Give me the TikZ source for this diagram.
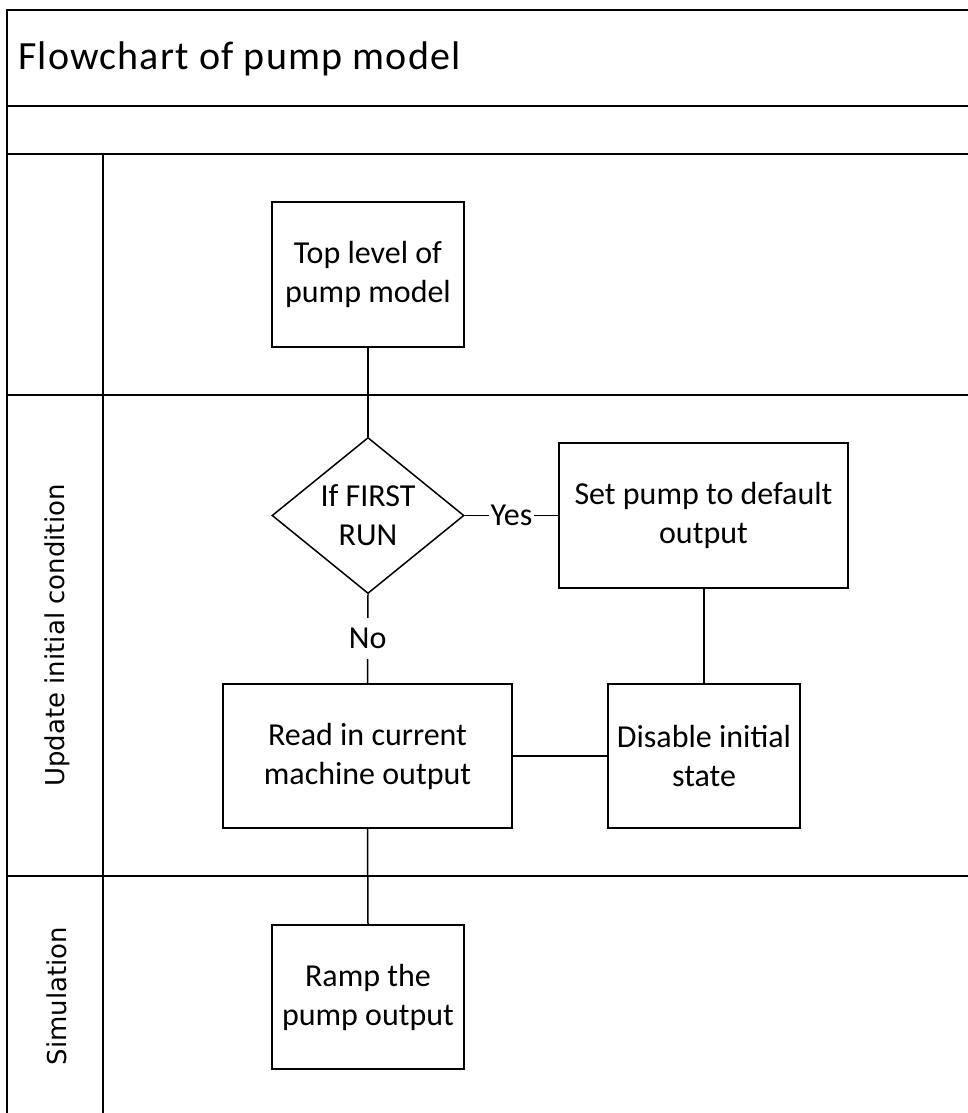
\documentclass[tikz,border=0pt]{standalone}
\usepackage{fontspec}
\setmainfont{Carlito}
\newfontfamily\lanefont{DejaVu Sans}
\newfontfamily\titlefont[LetterSpace=3]{Carlito}
\usetikzlibrary{shapes.geometric}
\tikzset{
  frameline/.style={line width=2pt, black},
  procbox/.style={draw, line width=1.5pt, rectangle, inner sep=0pt, align=center,
    font=\fontsize{32}{39}\selectfont},
  decision/.style={draw, line width=1.5pt, diamond, inner sep=0pt, align=center,
    minimum width=192pt, minimum height=143pt, font=\fontsize{32}{39}\selectfont},
  conn/.style={line width=1.5pt, black},
  edgelabel/.style={fill=white, inner xsep=2pt, inner ysep=10pt, font=\fontsize{32}{39}\selectfont},
  lanelabel/.style={rotate=90, inner sep=0pt, font=\lanefont\fontsize{26}{30}\selectfont},
}
\begin{document}
\begin{tikzpicture}[x=1pt, y=-1pt]
\useasboundingbox (0,0) rectangle (968,1113);
\clip (0,0) rectangle (968,1113);
% frame
\draw[frameline] (980,10) -- (7,10) -- (7,1130);
\draw[frameline] (7,106) -- (980,106);
\draw[frameline] (7,154) -- (980,154);
\draw[frameline] (7,395) -- (980,395);
\draw[frameline] (7,876) -- (980,876);
\draw[frameline] (103,154) -- (103,1130);
% title and lane labels
\node[anchor=base west, inner sep=0pt, font=\titlefont\fontsize{40}{48}\selectfont] (title) at (18,70) {Flowchart of pump model};
\node[lanelabel] (lane2) at (57,635.5) {Update initial condition};
\node[lanelabel] (lane3) at (57,996) {Simulation};
% nodes
\node[procbox, minimum width=192pt, minimum height=145pt] (top) at (368,274.5) {Top level of\\pump model};
\node[decision] (dia) at (368,515.5) {If FIRST\\RUN};
\node[procbox, minimum width=289pt, minimum height=145pt] (set) at (703.5,515.5) {Set pump to default\\output};
\node[procbox, minimum width=289pt, minimum height=144pt] (read) at (367.5,756) {Read in current\\machine output};
\node[procbox, minimum width=192pt, minimum height=144pt] (dis) at (704,756) {Disable initial\\state};
\node[procbox, minimum width=192pt, minimum height=144pt] (ramp) at (368,997) {Ramp the\\pump output};
% connectors
\draw[conn] (top.south) -- (dia.north);
\draw[conn] (dia.east) -- node[edgelabel] (yes) {Yes} (set.west);
\draw[conn] (dia.south) -- node[edgelabel] (no) {No} (read.north);
\draw[conn] (set.south -| dis.north) -- (dis.north);
\draw[conn] (read.east) -- (dis.west);
\draw[conn] (read.south) -- (ramp.north);
\end{tikzpicture}
\end{document}
